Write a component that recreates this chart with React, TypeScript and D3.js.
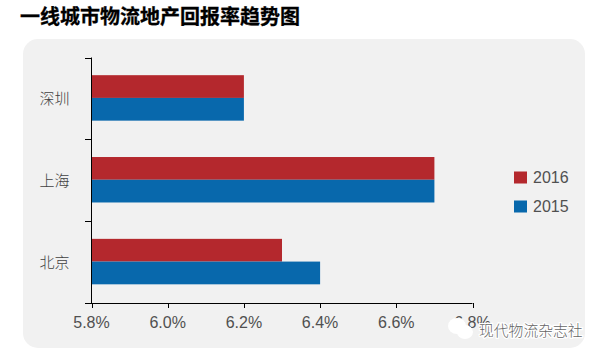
import React from "react";
import * as d3 from "d3";

const categories = ["深圳", "上海", "北京"];
const values2016 = [6.2, 6.7, 6.3];
const values2015 = [6.2, 6.7, 6.4];
const xTicks = [5.8, 6.0, 6.2, 6.4, 6.6, 6.8];
const legendItems = ["2016", "2015"];

const RED = "#b4282d";
const BLUE = "#0868ac";
const SANS = "'Liberation Sans', Arial, 'Noto Sans CJK SC', sans-serif";
const CJK = "'Noto Sans CJK SC', sans-serif";

export default function App() {
  const x = d3.scaleLinear().domain([5.8, 6.8]).range([91.5, 472.5]);
  const y = d3.scaleBand<string>().domain(categories).range([57.5, 303]);
  const inner = d3
    .scaleBand<string>()
    .domain(legendItems)
    .range([-0.5, y.bandwidth() - 0.5])
    .paddingInner(0)
    .paddingOuter(0.8);
  const series = [
    { key: "2016", values: values2016, color: RED },
    { key: "2015", values: values2015, color: BLUE },
  ];
  const legendY = d3.scalePoint<string>().domain(legendItems).range([177.5, 206.5]);
  const yTicks = [...categories.map((c) => y(c)!), 303];

  return (
    <svg
      width={603}
      height={357}
      style={{ position: "absolute", left: 0, top: 0, background: "#fff" }}
    >
      <rect x={23} y={39} width={562} height={309} rx={15} fill="#f1f1f1" />
      <text
        x={20}
        y={24}
        fontFamily={CJK}
        fontSize={20}
        fontWeight={700}
        fill="#000"
        stroke="#000"
        strokeWidth={0.3}
      >
        一线城市物流地产回报率趋势图
      </text>

      {series.map((s) =>
        categories.map((c, i) => (
          <rect
            key={s.key + c}
            x={x(5.8)}
            y={y(c)! + inner(s.key)!}
            width={x(s.values[i]) - x(5.8)}
            height={inner.bandwidth()}
            fill={s.color}
          />
        ))
      )}

      <line x1={91.5} x2={91.5} y1={57.5} y2={303.5} stroke="#000" />
      <line x1={91} x2={472.5} y1={303.5} y2={303.5} stroke="#000" />
      {yTicks.map((t) => (
        <line
          key={t}
          x1={85}
          x2={91}
          y1={Math.round(t) + 0.5}
          y2={Math.round(t) + 0.5}
          stroke="#000"
        />
      ))}
      {xTicks.map((t) => (
        <g key={t}>
          <line
            x1={Math.round(x(t)) + 0.5}
            x2={Math.round(x(t)) + 0.5}
            y1={303}
            y2={308}
            stroke="#000"
          />
          <text
            x={x(t)}
            y={328}
            textAnchor="middle"
            fontFamily={SANS}
            fontSize={16}
            fill="#505050"
          >
            {t.toFixed(1)}%
          </text>
        </g>
      ))}
      {categories.map((c) => (
        <text
          key={c}
          x={54.5}
          y={y(c)! + y.bandwidth() / 2 + 5.5}
          textAnchor="middle"
          fontFamily={CJK}
          fontSize={15}
          fontWeight={300}
          fill="#404040"
        >
          {c}
        </text>
      ))}

      {legendItems.map((k, i) => (
        <g key={k}>
          <rect x={514} y={legendY(k)! - 6} width={13} height={12} fill={series[i].color} />
          <text x={533} y={legendY(k)! + 5} fontFamily={SANS} fontSize={16} fill="#505050">
            {k}
          </text>
        </g>
      ))}

      <g fill="#fff">
        <ellipse cx={457} cy={326} rx={9} ry={8} />
        <ellipse cx={465} cy={332} rx={8} ry={7} />
      </g>
      <text
        x={479}
        y={336}
        fontFamily={CJK}
        fontSize={14.8}
        fontWeight={300}
        fill="#666"
        stroke="#fff"
        strokeWidth={2.5}
        paintOrder="stroke"
      >
        现代物流杂志社
      </text>
    </svg>
  );
}
